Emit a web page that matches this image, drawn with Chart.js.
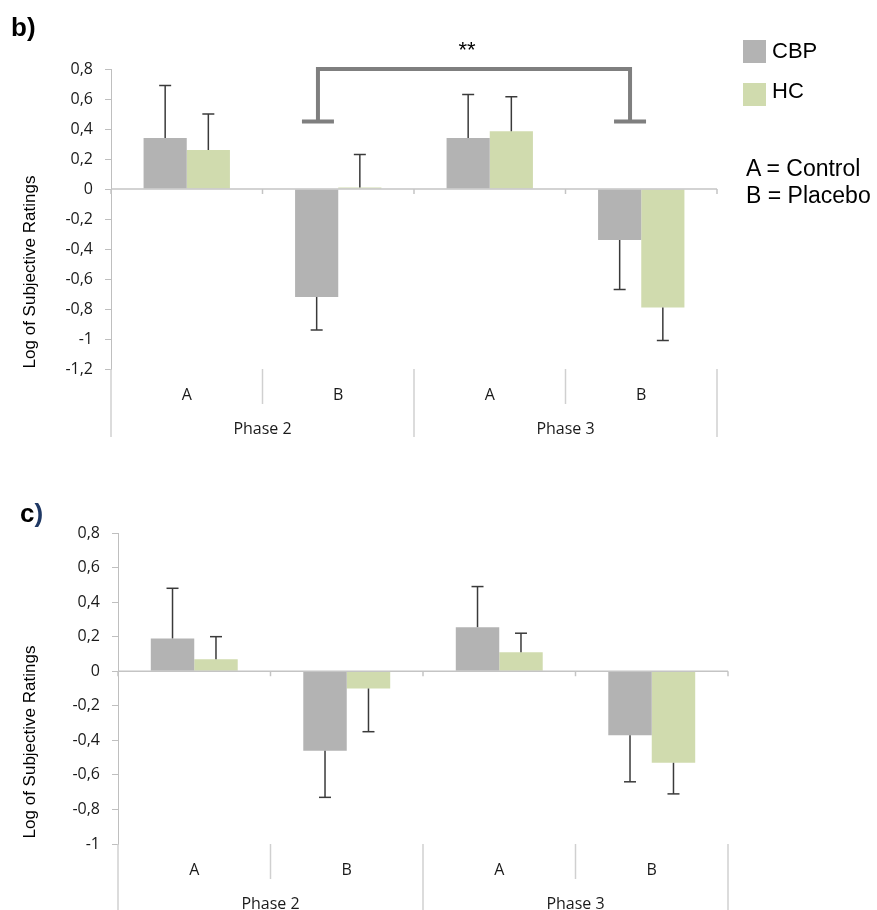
<!DOCTYPE html>
<html>
<head>
<meta charset="utf-8">
<script src="https://cdn.jsdelivr.net/npm/chart.js@4.4.1/dist/chart.umd.min.js"></script>
<style>
  body { margin: 0; width: 877px; height: 910px; position: relative; background: #fff; overflow: hidden; font-family: "Liberation Sans", Arial, sans-serif; }
  .wrap { position: absolute; left: 0; width: 877px; }
  .txt { position: absolute; white-space: nowrap; color: #000; }
  .sw { position: absolute; width: 23px; height: 23px; }
</style>
</head>
<body>
<div class="wrap" style="top:0; height:450px;"><canvas id="chartB"></canvas></div>
<div class="wrap" style="top:450px; height:460px;"><canvas id="chartC"></canvas></div>

<div class="txt" style="left:11px; top:14px; font-size:26px; line-height:26px; font-weight:bold;">b)</div>
<div class="txt" style="left:20px; top:500px; font-size:26px; line-height:26px; font-weight:bold;">c<span style="color:#1f3864">)</span></div>
<div class="txt" style="left:417px; top:39px; width:100px; text-align:center; font-size:22px; line-height:22px;">**</div>

<div class="sw" style="left:743px; top:40px; background:#b3b3b3;"></div>
<div class="txt" style="left:772px; top:40px; font-size:22px; line-height:22px;">CBP</div>
<div class="sw" style="left:743px; top:83px; background:#d0dbae;"></div>
<div class="txt" style="left:772px; top:80px; font-size:22px; line-height:22px;">HC</div>
<div class="txt" style="left:746px; top:157px; font-size:23px; line-height:23px;">A = Control</div>
<div class="txt" style="left:746px; top:184px; font-size:23px; line-height:23px;">B = Placebo</div>

<script>
// categories and groups
const categories = ["A", "B", "A", "B"];
const phases = ["Phase 2", "Phase 3"];

// panel b
const bCBP = [0.34, -0.72, 0.34, -0.34];
const bCBPErr = [0.35, 0.22, 0.29, 0.33];
const bHC = [0.26, 0.01, 0.385, -0.79];
const bHCErr = [0.24, 0.22, 0.23, 0.22];

// panel c
const cCBP = [0.19, -0.46, 0.255, -0.37];
const cCBPErr = [0.29, 0.27, 0.235, 0.27];
const cHC = [0.07, -0.10, 0.11, -0.53];
const cHCErr = [0.13, 0.25, 0.11, 0.18];

const yTitle = "Log of Subjective Ratings";

function line(ctx, x1, y1, x2, y2) {
  ctx.beginPath();
  ctx.moveTo(x1, y1);
  ctx.lineTo(x2, y2);
  ctx.stroke();
}

const decor = {
  id: "decor",
  afterDatasetsDraw(chart, args, opts) {
    const ctx = chart.ctx;
    const xs = chart.scales.x;
    const ys = chart.scales.y;
    const area = chart.chartArea;
    const n = categories.length;
    const y0 = ys.getPixelForValue(0);

    ctx.save();
    // zero line with small ticks
    ctx.strokeStyle = "#c4c4c4";
    ctx.lineWidth = 1.5;
    line(ctx, area.left, y0, area.right, y0);
    for (let i = 0; i <= n; i++) {
      const x = xs.getPixelForValue(i - 0.5);
      line(ctx, x, y0, x, y0 + 5);
    }

    // error bars
    ctx.strokeStyle = "#3a3a3a";
    ctx.lineWidth = 1.5;
    chart.data.datasets.forEach((ds, di) => {
      const meta = chart.getDatasetMeta(di);
      meta.data.forEach((bar, i) => {
        const v = ds.data[i];
        const e = ds.errors[i];
        const end = v >= 0 ? v + e : v - e;
        const y1 = ys.getPixelForValue(v);
        const y2 = ys.getPixelForValue(end);
        line(ctx, bar.x, y1, bar.x, y2);
        line(ctx, bar.x - 6, y2, bar.x + 6, y2);
      });
    });

    // category separators and labels below the plot
    ctx.strokeStyle = "#d0d0d0";
    ctx.lineWidth = 1.5;
    for (let i = 0; i <= n; i++) {
      const x = xs.getPixelForValue(i - 0.5);
      const len = i % 2 === 0 ? opts.outer : 35;
      line(ctx, x, area.bottom, x, area.bottom + len);
    }
    ctx.fillStyle = "#1a1a1a";
    ctx.font = '16px "Open Sans"';
    ctx.textAlign = "center";
    ctx.textBaseline = "middle";
    categories.forEach((c, i) => {
      ctx.fillText(c, xs.getPixelForValue(i), area.bottom + 26);
    });
    phases.forEach((p, k) => {
      const x = (xs.getPixelForValue(2 * k) + xs.getPixelForValue(2 * k + 1)) / 2;
      ctx.fillText(p, x, area.bottom + 60);
    });

    // y axis title
    ctx.save();
    ctx.translate(30, opts.titleY);
    ctx.rotate(-Math.PI / 2);
    ctx.fillStyle = "#000";
    ctx.font = '17px "Liberation Sans"';
    ctx.fillText(yTitle, 0, 0);
    ctx.restore();

    // significance bracket
    if (opts.bracket) {
      const b = opts.bracket;
      const xl = xs.getPixelForValue(b.from);
      const xr = xs.getPixelForValue(b.to);
      const yt = ys.getPixelForValue(b.top);
      const yf = ys.getPixelForValue(b.foot);
      ctx.strokeStyle = "#7f7f7f";
      ctx.lineWidth = 4;
      ctx.lineCap = "butt";
      ctx.beginPath();
      ctx.moveTo(xl, yf);
      ctx.lineTo(xl, yt);
      ctx.lineTo(xr, yt);
      ctx.lineTo(xr, yf);
      ctx.stroke();
      line(ctx, xl - 16, yf, xl + 16, yf);
      line(ctx, xr - 16, yf, xr + 16, yf);
    }
    ctx.restore();
  }
};

function makeChart(id, cbp, cbpErr, hc, hcErr, yMin, pad, axisW, decorOpts) {
  return new Chart(document.getElementById(id), {
    type: "bar",
    data: {
      labels: categories,
      datasets: [
        { label: "CBP", data: cbp, errors: cbpErr, backgroundColor: "#b3b3b3", borderWidth: 0 },
        { label: "HC", data: hc, errors: hcErr, backgroundColor: "#d0dbae", borderWidth: 0 }
      ]
    },
    options: {
      responsive: true,
      maintainAspectRatio: false,
      animation: false,
      devicePixelRatio: 1,
      categoryPercentage: 0.57,
      barPercentage: 1.0,
      layout: { padding: pad },
      plugins: {
        legend: { display: false },
        tooltip: { enabled: false },
        decor: decorOpts
      },
      scales: {
        x: { display: false },
        y: {
          min: yMin,
          max: 0.8,
          afterFit: (scale) => { scale.width = axisW; },
          ticks: {
            stepSize: 0.2,
            padding: 12,
            color: "#1a1a1a",
            font: { family: "Open Sans", size: 16 },
            callback: (v) => String(Math.round(v * 10) / 10).replace(".", ",")
          },
          grid: { drawOnChartArea: false, tickLength: 6, color: "#bfbfbf", lineWidth: 1 },
          border: { color: "#bfbfbf", width: 1 }
        }
      }
    },
    plugins: [decor]
  });
}

makeChart("chartB", bCBP, bCBPErr, bHC, bHCErr, -1.2,
  { top: 69, bottom: 81, left: 0, right: 160 }, 111,
  { outer: 68, titleY: 272, bracket: { from: 0.866, to: 2.926, top: 0.8, foot: 0.45 } });

makeChart("chartC", cCBP, cCBPErr, cHC, cHCErr, -1.0,
  { top: 83, bottom: 66, left: 0, right: 149 }, 118,
  { outer: 66, titleY: 292, bracket: null });
</script>
</body>
</html>
